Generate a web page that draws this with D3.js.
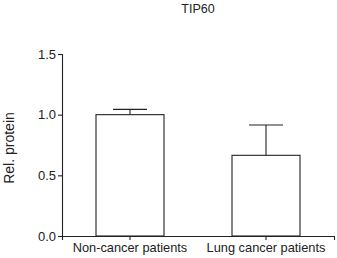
<!DOCTYPE html>
<html>
<head>
<meta charset="utf-8">
<script src="https://cdn.jsdelivr.net/npm/d3@7"></script>
<style>
  body { margin: 0; background: #fff; }
  text { font-family: "Liberation Sans", Arial, sans-serif; fill: #222; }
</style>
</head>
<body>
<div id="chart"></div>
<script>
const groups = ["Non-cancer patients", "Lung cancer patients"];
const means = [1.0, 0.665];
const errors = [0.044, 0.25];
const yTicks = [0.0, 0.5, 1.0, 1.5];

const W = 337, H = 258;
const margin = { top: 54, right: 3, bottom: 22, left: 62 },
    width = W - margin.left - margin.right,
    height = H - margin.top - margin.bottom;

const svg = d3.select("#chart")
    .append("svg")
    .attr("width", W)
    .attr("height", H);

const g = svg.append("g")
    .attr("transform", `translate(${margin.left}, ${margin.top})`);

const x = d3.scaleBand()
    .domain(groups)
    .range([0, width])
    .paddingInner(0.5)
    .paddingOuter(0.25);

const y = d3.scaleLinear()
    .domain([0, 1.5])
    .range([height, 0]);

// title
svg.append("text")
    .attr("x", 198)
    .attr("y", 13)
    .attr("text-anchor", "middle")
    .style("font-size", "12.5px")
    .text("TIP60");

// bars
g.selectAll(".bar")
    .data(groups)
    .enter()
    .append("rect")
    .attr("class", "bar")
    .attr("x", d => x(d))
    .attr("y", (d, i) => y(means[i]))
    .attr("width", x.bandwidth())
    .attr("height", (d, i) => y(0) - y(means[i]))
    .attr("fill", "#fff")
    .attr("stroke", "#222")
    .attr("stroke-width", 1.1);

// error bars (upper only)
const cap = x.bandwidth() / 2;
groups.forEach((d, i) => {
    const cx = x(d) + x.bandwidth() / 2;
    g.append("line")
        .attr("x1", cx).attr("x2", cx)
        .attr("y1", y(means[i])).attr("y2", y(means[i] + errors[i]))
        .attr("stroke", "#222").attr("stroke-width", 1.1);
    g.append("line")
        .attr("x1", cx - cap / 2).attr("x2", cx + cap / 2)
        .attr("y1", y(means[i] + errors[i])).attr("y2", y(means[i] + errors[i]))
        .attr("stroke", "#222").attr("stroke-width", 1.1);
});

// Y axis
const yAxis = g.append("g")
    .call(d3.axisLeft(y).tickValues(yTicks).tickFormat(d3.format(".1f")).tickSize(4).tickPadding(2));
yAxis.select(".domain").attr("stroke", "#222").attr("stroke-width", 1.1);
yAxis.selectAll(".tick line").attr("stroke", "#222").attr("stroke-width", 1.1);
yAxis.selectAll("text")
    .style("font-size", "13px")
    .style("font-family", "'Liberation Sans', Arial, sans-serif")
    .attr("fill", "#222");

// X axis
const xAxis = g.append("g")
    .attr("transform", `translate(0, ${height})`)
    .call(d3.axisBottom(x).tickSizeOuter(0).tickSize(4).tickPadding(3));
xAxis.select(".domain").attr("stroke", "#222").attr("stroke-width", 1.1);
xAxis.selectAll(".tick line").attr("stroke", "#222").attr("stroke-width", 1.1);
xAxis.selectAll("text")
    .style("font-size", "12.8px")
    .style("font-family", "'Liberation Sans', Arial, sans-serif")
    .attr("fill", "#222");

// Y label
svg.append("text")
    .attr("transform", "translate(14, 148) rotate(-90)")
    .attr("text-anchor", "middle")
    .style("font-size", "14px")
    .text("Rel. protein");
</script>
</body>
</html>
